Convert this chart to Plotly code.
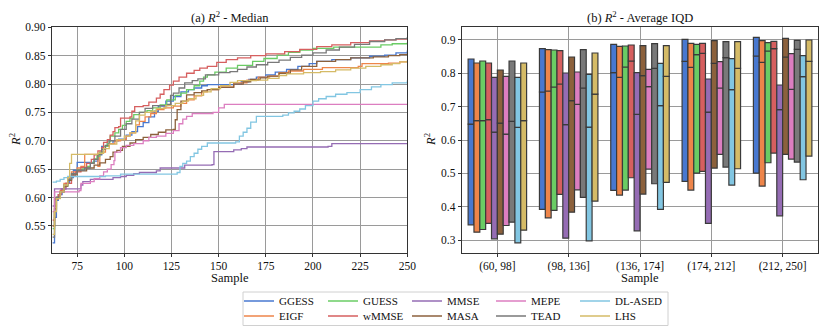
import plotly.graph_objects as go

# method names and colours (seaborn "muted")
METHODS = ["GGESS", "EIGF", "GUESS", "wMMSE", "MMSE", "MASA", "MEPE", "TEAD", "DL-ASED", "LHS"]
COLORS = {
    "GGESS": "#4878D0", "EIGF": "#EE854A", "GUESS": "#6ACC64", "wMMSE": "#D65F5F",
    "MMSE": "#956CB4", "MASA": "#8C613C", "MEPE": "#DC7EC0", "TEAD": "#797979",
    "DL-ASED": "#82C6E2", "LHS": "#D5BB67",
}

# (a) median R^2 vs sample, as (sample, value) step points
GGESS = [(62, .52), (63, .565), (64, .595), (65, .605), (67, .615), (69, .625), (71, .635), (73, .648),
         (75, .662), (84, .664), (86, .675), (88, .69), (91, .695), (94, .70), (97, .703), (101, .71),
         (104, .716), (107, .725), (110, .732), (113, .742), (116, .752), (118, .761), (122, .77),
         (126, .778), (130, .786), (134, .79), (137, .793), (141, .797), (144, .799), (158, .80),
         (162, .804), (166, .808), (170, .812), (175, .816), (180, .821), (186, .826), (192, .831),
         (198, .836), (202, .84), (210, .843), (220, .846), (230, .849), (238, .851), (244, .855), (250, .859)]
EIGF = [(62, .55), (63, .585), (64, .60), (66, .612), (68, .625), (70, .635), (72, .645), (75, .652),
        (77, .655), (79, .676), (86, .655), (87, .68), (90, .69), (92, .695), (95, .70), (98, .702),
        (101, .708), (103, .714), (106, .728), (108, .734), (111, .742), (114, .748), (117, .755),
        (121, .758), (126, .761), (130, .766), (133, .772), (137, .779), (141, .786), (144, .79),
        (150, .795), (158, .802), (165, .807), (171, .812), (177, .814), (182, .82), (187, .823),
        (195, .826), (205, .829), (224, .831), (226, .836), (240, .837), (246, .839), (250, .841)]
GUESS = [(62, .545), (63, .58), (64, .60), (66, .61), (68, .62), (70, .632), (72, .642), (75, .648),
         (78, .652), (80, .655), (82, .661), (84, .668), (85.5, .673), (87, .68), (89, .69), (91, .698),
         (92.5, .708), (95, .714), (97, .72), (99, .727), (101, .734), (103, .74), (105, .746), (108, .75),
         (112, .753), (115, .758), (119, .763), (122.5, .772), (127, .78), (130, .784), (133, .79),
         (137, .797), (140, .805), (142, .812), (144, .816), (148, .821), (154, .828), (160, .833),
         (168, .84), (174, .845), (181, .851), (187, .856), (193, .86), (200, .863), (211, .865),
         (232, .865), (236, .869), (242, .871), (250, .873)]
WMMSE = [(62, .56), (63, .597), (65, .605), (66.5, .615), (69, .625), (72, .638), (74, .645), (77, .653),
         (80, .66), (82.5, .667), (84, .675), (86, .682), (88, .688), (89, .697), (91, .702), (92.5, .71),
         (94, .716), (95, .723), (97, .725), (98, .74), (103, .742), (104, .752), (105.5, .76), (110, .762),
         (113, .768), (117, .775), (119, .782), (121, .79), (124, .798), (126, .805), (129, .812),
         (133, .819), (137, .824), (140, .828), (144, .831), (149, .838), (154, .843), (160, .846),
         (167, .85), (175, .853), (185, .857), (193, .861), (202, .866), (210, .869), (220, .873),
         (230, .876), (238, .878), (244, .879), (250, .881)]
MMSE = [(62, .585), (63, .615), (77, .622), (78, .628), (82, .632), (94, .635), (98, .637), (101, .639),
        (105, .642), (108, .644), (117, .647), (119, .652), (131, .652), (132, .657), (146.5, .658),
        (147.5, .681), (158, .684), (162, .686), (165, .689), (208, .69), (210, .695), (250, .696)]
MASA = [(62, .55), (63, .58), (64, .60), (66, .61), (68, .62), (70, .63), (72, .64), (75, .647),
        (80, .652), (84, .657), (87, .661), (90, .667), (92.5, .672), (94, .68), (96, .683), (99, .69),
        (103, .696), (106, .702), (110, .706), (114, .711), (118, .715), (122, .719), (126, .72),
        (127, .737), (128, .755), (130, .77), (133, .781), (137, .785), (141, .788), (144, .79),
        (150, .794), (158, .80), (163, .804), (167, .808), (172, .811), (176, .814), (182, .819),
        (188, .825), (194, .831), (202, .84), (212, .843), (220, .846), (232, .848), (240, .85),
        (246, .852), (250, .854)]
MEPE = [(62, .575), (63, .61), (76, .612), (77, .625), (82, .628), (84, .633), (87, .638), (89, .645),
        (91, .65), (93, .658), (94.5, .665), (95, .68), (98, .688), (101, .692), (105, .695), (110, .70),
        (113, .706), (117, .708), (122, .713), (126, .718), (129, .73), (131, .738), (133, .743),
        (136, .748), (147, .75), (150, .758), (153, .764), (250, .764)]
TEAD = [(62, .53), (63, .575), (64, .60), (66, .61), (68, .622), (70, .632), (72, .642), (75, .648),
        (79, .652), (82, .66), (84, .667), (86, .676), (88, .685), (90, .692), (92, .70), (95, .708),
        (98, .72), (101, .73), (104, .738), (108, .75), (111, .757), (115, .762), (123, .764),
        (124.5, .78), (126, .784), (129, .793), (132, .802), (136, .806), (139, .809), (143, .816),
        (150, .82), (156, .822), (160, .826), (165, .83), (170, .834), (176, .838), (182, .842),
        (188, .847), (194, .851), (200, .855), (207, .86), (214, .865), (222, .87), (230, .875),
        (238, .878), (244, .88), (250, .883)]
DL_ASED = [(62, .627), (64, .629), (66, .632), (68, .635), (70, .637), (90, .638), (98, .641), (128, .644),
           (129.5, .655), (131, .66), (133, .664), (135, .672), (137, .678), (139, .685), (141, .69),
           (144, .696), (159, .698), (161, .708), (163, .715), (165, .722), (167, .733), (170, .743),
           (184, .745), (187, .749), (190, .752), (193, .756), (196, .762), (200, .77), (203, .774),
           (207, .778), (212, .782), (218, .785), (225, .79), (231, .795), (236, .799), (242, .802), (250, .806)]
LHS = [(62, .535), (63, .575), (64, .598), (66, .61), (68, .622), (70, .635), (71, .66), (72, .676),
       (86, .678), (89, .686), (92, .694), (96, .702), (100, .708), (103, .714), (106, .735), (108, .745),
       (111, .75), (114, .752), (117, .757), (122, .762), (127, .766), (131, .77), (134, .774),
       (138, .78), (142, .786), (146, .792), (151, .797), (156, .803), (160, .806), (170, .807),
       (176, .81), (182, .815), (186, .818), (195, .82), (204, .822), (212, .825), (220, .828),
       (228, .831), (236, .834), (242, .836), (246, .839), (250, .841)]
MEDIAN_CURVES = {"GGESS": GGESS, "EIGF": EIGF, "GUESS": GUESS, "wMMSE": WMMSE, "MMSE": MMSE,
                 "MASA": MASA, "MEPE": MEPE, "TEAD": TEAD, "DL-ASED": DL_ASED, "LHS": LHS}

# (b) R^2 inter-quartile ranges per sample bin
BINS = ["(60, 98]", "(98, 136]", "(136, 174]", "(174, 212]", "(212, 250]"]
Q1 = {
    "GGESS": [0.346, 0.392, 0.449, 0.476, 0.501], "EIGF": [0.324, 0.367, 0.435, 0.45, 0.462],
    "GUESS": [0.332, 0.389, 0.45, 0.501, 0.532], "wMMSE": [0.35, 0.437, 0.487, 0.506, 0.561],
    "MMSE": [0.304, 0.306, 0.328, 0.35, 0.373], "MASA": [0.318, 0.384, 0.438, 0.516, 0.557],
    "MEPE": [0.344, 0.451, 0.513, 0.557, 0.543], "TEAD": [0.354, 0.428, 0.469, 0.519, 0.534],
    "DL-ASED": [0.292, 0.298, 0.392, 0.465, 0.481], "LHS": [0.33, 0.417, 0.473, 0.514, 0.552],
}
MED = {
    "GGESS": [0.648, 0.744, 0.802, 0.836, 0.852], "EIGF": [0.658, 0.747, 0.788, 0.818, 0.833],
    "GUESS": [0.658, 0.759, 0.819, 0.856, 0.867], "wMMSE": [0.661, 0.768, 0.837, 0.86, 0.874],
    "MMSE": [0.624, 0.646, 0.677, 0.684, 0.691], "MASA": [0.651, 0.718, 0.793, 0.83, 0.849],
    "MEPE": [0.618, 0.707, 0.76, 0.756, 0.752], "TEAD": [0.656, 0.756, 0.815, 0.847, 0.872],
    "DL-ASED": [0.638, 0.639, 0.703, 0.751, 0.79], "LHS": [0.658, 0.738, 0.791, 0.815, 0.836],
}
Q3 = {
    "GGESS": [0.843, 0.874, 0.887, 0.902, 0.908], "EIGF": [0.831, 0.871, 0.881, 0.89, 0.898],
    "GUESS": [0.837, 0.87, 0.882, 0.887, 0.892], "wMMSE": [0.831, 0.868, 0.885, 0.89, 0.896],
    "MMSE": [0.788, 0.801, 0.802, 0.783, 0.765], "MASA": [0.81, 0.849, 0.883, 0.898, 0.905],
    "MEPE": [0.791, 0.804, 0.812, 0.835, 0.859], "TEAD": [0.837, 0.871, 0.889, 0.895, 0.899],
    "DL-ASED": [0.788, 0.797, 0.83, 0.844, 0.853], "LHS": [0.831, 0.861, 0.883, 0.895, 0.9],
}

ROW1 = ["GGESS", "GUESS", "MMSE", "MEPE", "DL-ASED"]
FONT = "Liberation Serif, Times New Roman, serif"
W, H = 830, 332
PAGE = 8  # default body margin of the html page


def px(x):
    return (x - PAGE) / W


def py(y):
    return 1 - (y - PAGE) / H


fig = go.Figure()

for m in METHODS:
    pts = MEDIAN_CURVES[m]
    fig.add_trace(go.Scatter(
        x=[p[0] for p in pts], y=[p[1] for p in pts], name=m, mode="lines",
        line=dict(color=COLORS[m], width=1.3, shape="hv"),
        xaxis="x", yaxis="y", legend="legend" if m in ROW1 else "legend2",
    ))
# blank entries so the last legend labels are not clipped
for lg in ["legend", "legend2"]:
    fig.add_trace(go.Scatter(x=[None], y=[None], name=" ", mode="lines", line=dict(width=0),
                             xaxis="x", yaxis="y", legend=lg, hoverinfo="skip"))

edge = dict(color="#3a3a3a", width=1.2)
for m in METHODS:
    lo = [b - a for a, b in zip(Q1[m], MED[m])]
    hi = [b - a for a, b in zip(MED[m], Q3[m])]
    fig.add_trace(go.Bar(x=BINS, y=lo, base=Q1[m], offsetgroup=m, marker=dict(color=COLORS[m], line=edge),
                         showlegend=False, xaxis="x2", yaxis="y2", hoverinfo="skip"))
    fig.add_trace(go.Bar(x=BINS, y=hi, base=MED[m], offsetgroup=m, marker=dict(color=COLORS[m], line=edge),
                         showlegend=False, xaxis="x2", yaxis="y2", hoverinfo="skip"))

ax = dict(showline=True, mirror=True, linecolor="#333", linewidth=1, ticks="outside", ticklen=3,
          tickcolor="#333", showgrid=True, gridcolor="#9a9a9a", gridwidth=1, zeroline=False,
          tickfont=dict(family=FONT, size=11.5, color="#111"))

leg = dict(orientation="h", x=px(239), xanchor="left", yanchor="middle", entrywidth=39,
           bgcolor="rgba(0,0,0,0)", font=dict(family=FONT, size=11), tracegroupgap=0)

fig.update_layout(
    width=W, height=H, margin=dict(l=0, r=0, t=0, b=0, autoexpand=False),
    paper_bgcolor="white", plot_bgcolor="white",
    font=dict(family=FONT, size=12, color="#111"),
    barmode="group", bargap=0.18, bargroupgap=0,
    xaxis=dict(domain=[px(51.7), px(407.3)], range=[61.5, 250], tickvals=[75, 100, 125, 150, 175, 200, 225, 250],
               anchor="y", **ax),
    yaxis=dict(domain=[py(252.5), py(27.3)], range=[0.503, 0.90],
               tickvals=[0.55, 0.60, 0.65, 0.70, 0.75, 0.80, 0.85, 0.90], tickformat=".2f", anchor="x", **ax),
    xaxis2=dict(domain=[px(461.7), px(818.3)], range=[-0.5, 4.5], anchor="y2", type="category", **ax),
    yaxis2=dict(domain=[py(252.5), py(27.3)], range=[0.263, 0.938], tickvals=[0.3, 0.4, 0.5, 0.6, 0.7, 0.8, 0.9],
                tickformat=".1f", anchor="x2", **ax),
    legend=dict(y=py(301), **leg),
    legend2=dict(y=py(316), **leg),
    shapes=[dict(type="rect", xref="paper", yref="paper", x0=px(243), x1=px(668), y0=py(325.5), y1=py(292),
                 line=dict(color="#d0d0d0", width=1))],
)

ann = []
for cx, title in [((51.7 + 407.3) / 2, "(a) <i>R</i><sup>2</sup> - Median"),
                  ((461.7 + 818.3) / 2, "(b) <i>R</i><sup>2</sup> - Average IQD")]:
    ann.append(dict(x=px(cx), y=py(17), text=title))
    ann.append(dict(x=px(cx), y=py(278), text="Sample"))
for lx in [15, 430]:
    ann.append(dict(x=px(lx), y=py(140), text="<i>R</i><sup>2</sup>", textangle=-90))
for a in ann:
    a.update(showarrow=False, xref="paper", yref="paper", xanchor="center", yanchor="middle",
             font=dict(family=FONT, size=12.5))
fig.update_layout(annotations=ann)

fig.write_html("out.html")
